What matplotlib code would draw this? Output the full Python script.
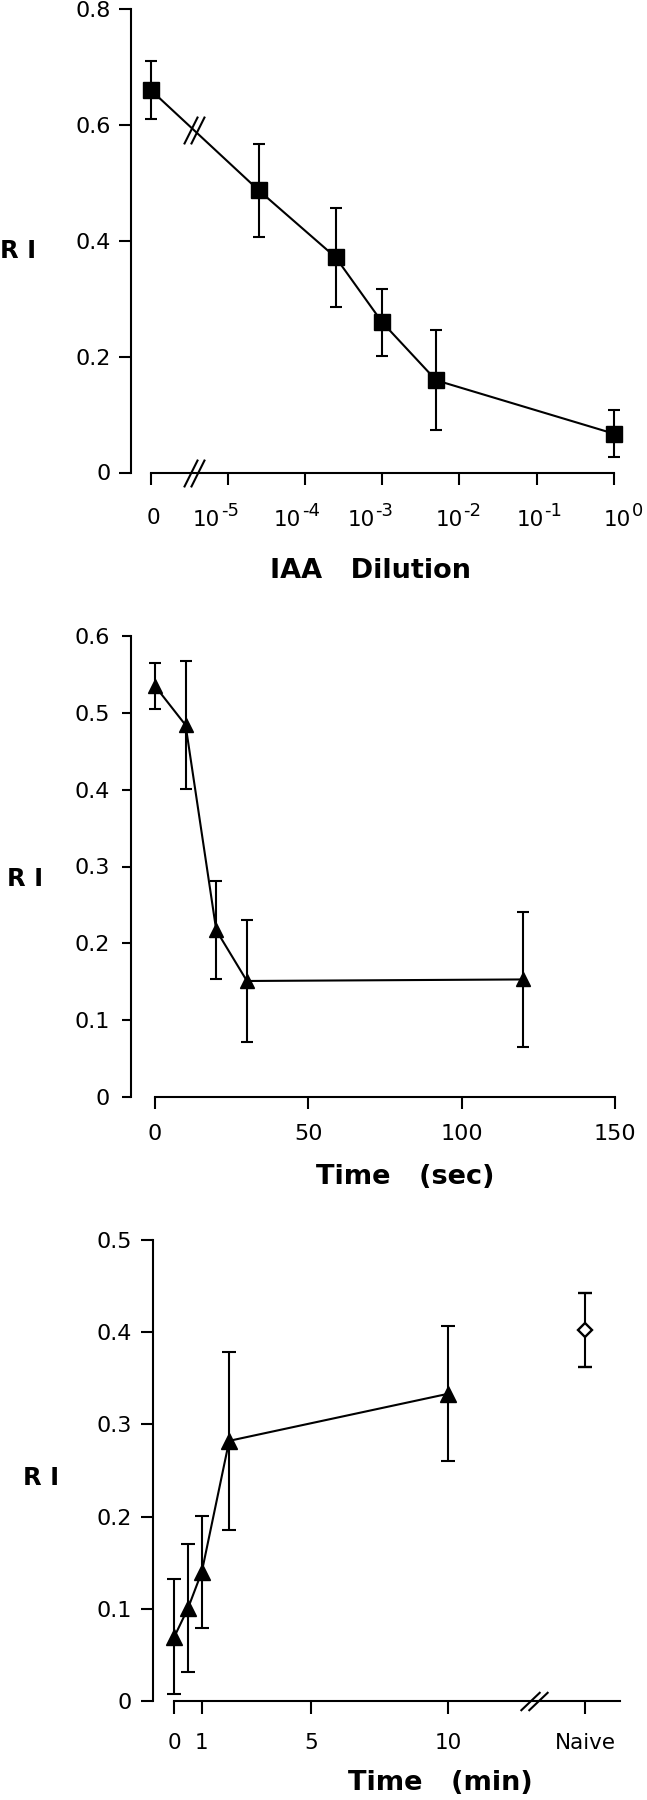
import numpy as np
import matplotlib
matplotlib.use("Agg")
from matplotlib import pyplot as plt
from matplotlib.path import Path

# top panel: RI against IAA dilution (0 = no IAA)
iaa_dilution = [0, 2.5e-5, 2.5e-4, 1e-3, 5e-3, 1.0]
iaa_ri = [0.66, 0.487, 0.371, 0.259, 0.159, 0.067]
iaa_err = [0.05, 0.08, 0.085, 0.058, 0.086, 0.04]
iaa_decades = [-5, -4, -3, -2, -1, 0]

# middle panel: RI against exposure time (sec)
sec_time = [0, 10, 20, 30, 120]
sec_ri = [0.535, 0.484, 0.217, 0.151, 0.153]
sec_err = [0.03, 0.083, 0.064, 0.08, 0.088]

# bottom panel: RI against recovery time (min), plus naive animals
min_time = [0, 0.5, 1, 2, 10]
min_ri = [0.07, 0.101, 0.14, 0.282, 0.333]
min_err = [0.062, 0.069, 0.061, 0.096, 0.073]
naive_ri = [0.402]
naive_err = [0.04]
min_tick_labels = ["0", "1", "5", "10", "Naive"]

W, H = 647, 1800
plt.rcParams['font.family'] = ['DejaVu Sans']
lw = 1.5


def place(l, t, r, b):
    return [l / W, 1 - b / H, (r - l) / W, (b - t) / H]


def dil_pos(v):
    # log scale, with 0 put one decade left of 1e-5
    v = np.asarray(v, dtype=float)
    return np.where(v > 0, np.log10(np.where(v > 0, v, 1.0)), -6.0)


def slash_marker(w, h, gap):
    verts = [(-gap / 2 - w / 2, -h / 2), (-gap / 2 + w / 2, h / 2),
             (gap / 2 - w / 2, -h / 2), (gap / 2 + w / 2, h / 2)]
    codes = [Path.MOVETO, Path.LINETO, Path.MOVETO, Path.LINETO]
    return Path(verts, codes)


def style_axes(ax, ylen, ypad, xlen, xpad, xsize):
    for s in ['top', 'right']:
        ax.spines[s].set_visible(False)
    for s in ['left', 'bottom']:
        ax.spines[s].set_linewidth(lw)
    ax.tick_params(axis='y', direction='out', length=ylen, width=lw,
                   labelsize=16, pad=ypad)
    ax.tick_params(axis='x', direction='out', length=xlen, width=lw,
                   labelsize=xsize, pad=xpad)


fig = plt.figure(figsize=(W / 100, H / 100), dpi=100)

# ---- top panel
ax1 = fig.add_axes(place(131, 8.7, 620, 472.5))
x1 = dil_pos(iaa_dilution)
ax1.errorbar(x1, iaa_ri, yerr=iaa_err, fmt='none', ecolor='k',
             elinewidth=lw, capsize=4.5, capthick=lw, clip_on=False)
ax1.plot(x1, iaa_ri, 's-', color='k', ms=11, lw=lw, clip_on=False, zorder=3)
ax1.set_xlim(-6.254, 0.08)
ax1.set_ylim(0, 0.8)
ax1.spines['left'].set_bounds(0, 0.8)
ax1.spines['bottom'].set_bounds(-6, 0)
ax1.set_xticks([-6] + iaa_decades)
ax1.set_xticklabels([""] * 7)
ax1.set_yticks([0, 0.2, 0.4, 0.6, 0.8])
ax1.set_yticklabels(["0", "0.2", "0.4", "0.6", "0.8"])
style_axes(ax1, 8.3, 6, 8.6, 14, 15.5)

# hand-set tick labels: "0" and 10 with a large superscript
ax1.annotate("0", xy=(-6, 0), xycoords=('data', 'axes fraction'),
             xytext=(3, -46), textcoords='offset pixels',
             ha='center', va='center', fontsize=15.5)
base_shift = [-35, -31, -35, -24, -20, -10]
for d, dx in zip(iaa_decades, base_shift):
    ax1.annotate("10", xy=(d, 0), xycoords=('data', 'axes fraction'),
                 xytext=(dx, -48), textcoords='offset pixels',
                 ha='left', va='center', fontsize=15.5)
    ax1.annotate(str(d), xy=(d, 0), xycoords=('data', 'axes fraction'),
                 xytext=(dx + 28, -38), textcoords='offset pixels',
                 ha='left', va='center', fontsize=13)

brk1 = -5.44
brk1_y = np.interp(brk1, x1[:2], iaa_ri[:2])
m1 = slash_marker(14, 28, 7)
ax1.plot([brk1, brk1], [brk1_y, 0], ls='none', marker=m1, ms=20,
         mec='k', mfc='none', mew=lw, clip_on=False, zorder=5)

# ---- middle panel
ax2 = fig.add_axes(place(130.7, 636, 618, 1097))
ax2.errorbar(sec_time, sec_ri, yerr=sec_err, fmt='none', ecolor='k',
             elinewidth=lw, capsize=4.2, capthick=lw, clip_on=False)
ax2.plot(sec_time, sec_ri, '^-', color='k', ms=10.5, lw=lw, clip_on=False,
         zorder=3)
ax2.set_xlim(-7.9, 151)
ax2.set_ylim(0, 0.6)
ax2.spines['left'].set_bounds(0, 0.6)
ax2.spines['bottom'].set_bounds(0, 150)
ax2.set_xticks([0, 50, 100, 150])
ax2.set_yticks([0, 0.1, 0.2, 0.3, 0.4, 0.5, 0.6])
ax2.set_yticklabels(["0", "0.1", "0.2", "0.3", "0.4", "0.5", "0.6"])
style_axes(ax2, 6.5, 8.4, 8.6, 11, 16)

# ---- bottom panel
ax3 = fig.add_axes(place(153.3, 1239.5, 620, 1701.3))
naive_pos = 15
ax3.errorbar(min_time, min_ri, yerr=min_err, fmt='none', ecolor='k',
             elinewidth=lw, capsize=4.8, capthick=lw, clip_on=False)
ax3.plot(min_time, min_ri, '^-', color='k', ms=11, lw=lw, clip_on=False,
         zorder=3)
ax3.errorbar([naive_pos], naive_ri, yerr=naive_err, fmt='D', mfc='white',
             mec='k', mew=1.7, ms=7.5, ecolor='k', elinewidth=lw,
             capsize=5.2, capthick=lw, zorder=3)
ax3.set_xlim(-0.77, 16.27)
ax3.set_ylim(0, 0.5)
ax3.spines['left'].set_bounds(0, 0.5)
ax3.spines['bottom'].set_bounds(0, 16.27)
ax3.set_xticks([0, 1, 5, 10, naive_pos])
ax3.set_xticklabels(min_tick_labels)
ax3.set_yticks([0, 0.1, 0.2, 0.3, 0.4, 0.5])
ax3.set_yticklabels(["0", "0.1", "0.2", "0.3", "0.4", "0.5"])
style_axes(ax3, 8.3, 7, 9, 14, 15.5)
m3 = slash_marker(20, 19, 8)
ax3.plot([13.13], [0], ls='none', marker=m3, ms=20, mec='k', mfc='none',
         mew=lw, clip_on=False, zorder=5)

# axis titles
ylab = dict(ha='center', va='center', fontsize=17.5, fontweight='bold')
fig.text(18 / W, 1 - 251 / H, "R I", **ylab)
fig.text(25 / W, 1 - 879 / H, "R I", **ylab)
fig.text(41 / W, 1 - 1478 / H, "R I", **ylab)
xlab = dict(ha='center', va='center', fontsize=19.5, fontweight='bold')
fig.text(370 / W, 1 - 571 / H, "IAA   Dilution", **xlab)
fig.text(405 / W, 1 - 1177 / H, "Time   (sec)", **xlab)
fig.text(440 / W, 1 - 1783 / H, "Time   (min)", **xlab)

plt.savefig("out.png", dpi=100)
plt.close()
